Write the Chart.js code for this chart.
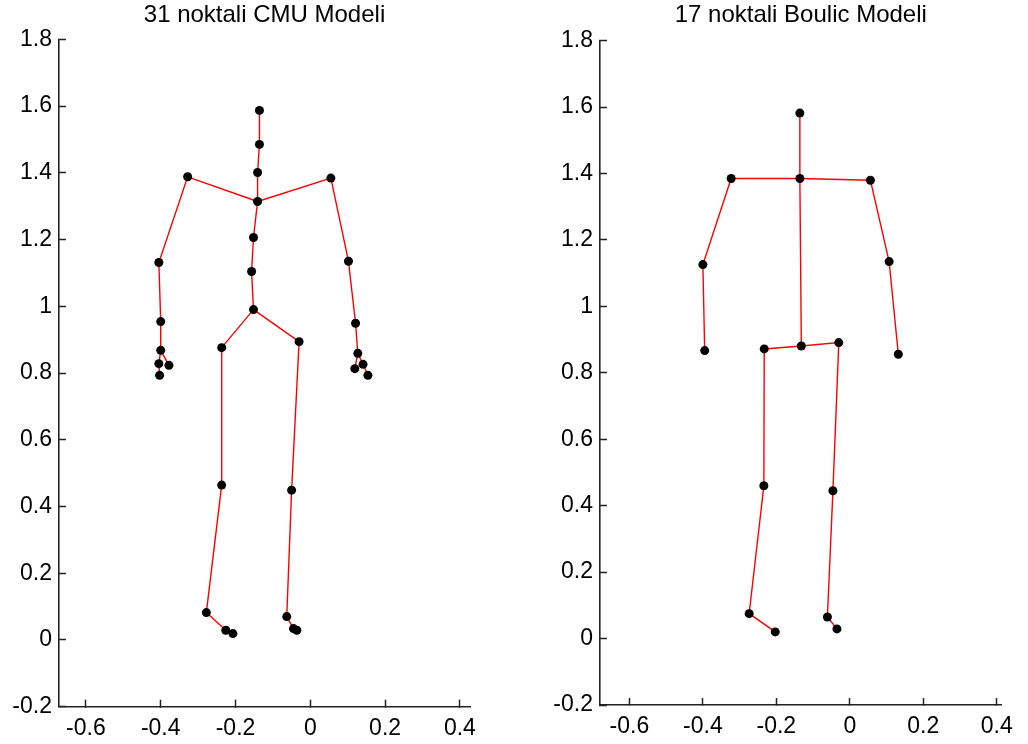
<!DOCTYPE html>
<html>
<head>
<meta charset="utf-8">
<script src="https://cdn.jsdelivr.net/npm/chart.js@4.4.1/dist/chart.umd.min.js"></script>
<style>
  body { margin: 0; background: #fff; }
  #wrap { position: relative; width: 1028px; height: 744px; }
  canvas { position: absolute; top: 0; }
</style>
</head>
<body>
<div id="wrap">
  <canvas id="cmuChart" width="520" height="744" style="left:0"></canvas>
  <canvas id="boulicChart" width="508" height="744" style="left:520px"></canvas>
</div>
<script>
const xTicks = [-0.6, -0.4, -0.2, 0, 0.2, 0.4];
const yTicks = [-0.2, 0, 0.2, 0.4, 0.6, 0.8, 1, 1.2, 1.4, 1.6, 1.8];

// 31 joint CMU skeleton
const cmuX = [-0.136, -0.136, -0.141, -0.141, -0.152, -0.157, -0.152,
  -0.328, -0.405, -0.400, -0.400, -0.405, -0.403, -0.378,
  0.055, 0.102, 0.121, 0.127, 0.141, 0.154, 0.119,
  -0.237, -0.237, -0.278, -0.226, -0.207,
  -0.030, -0.050, -0.063, -0.045, -0.036];
const cmuY = [1.587, 1.485, 1.401, 1.314, 1.206, 1.104, 0.990,
  1.388, 1.131, 0.954, 0.868, 0.828, 0.793, 0.823,
  1.384, 1.135, 0.949, 0.859, 0.826, 0.793, 0.813,
  0.876, 0.464, 0.082, 0.029, 0.019,
  0.894, 0.449, 0.070, 0.034, 0.029];
const cmuChains = [
  [0, 1, 2, 3, 4, 5, 6],
  [3, 7, 8, 9, 10, 11, 12], [10, 13],
  [3, 14, 15, 16, 17, 18, 19], [17, 20],
  [6, 21, 22, 23, 24, 25],
  [6, 26, 27, 28, 29, 30]
];

// 17 joint Boulic skeleton
const boulicX = [-0.136, -0.136, -0.323, -0.400, -0.395, 0.056, 0.107, 0.132,
  -0.132, -0.233, -0.234, -0.274, -0.203, -0.030, -0.046, -0.061, -0.035];
const boulicY = [1.582, 1.385, 1.385, 1.126, 0.867, 1.380, 1.135, 0.856,
  0.881, 0.872, 0.460, 0.075, 0.020, 0.891, 0.445, 0.065, 0.029];
const boulicChains = [
  [0, 1, 8],
  [1, 2, 3, 4],
  [1, 5, 6, 7],
  [8, 9, 10, 11, 12],
  [8, 13, 14, 15, 16]
];

Chart.defaults.font.family = "'Liberation Sans', Arial, sans-serif";
Chart.defaults.font.size = 23;
Chart.defaults.color = "#000";

const titlePlugin = {
  id: "axesTitle",
  afterDraw(chart, args, opts) {
    const a = chart.chartArea;
    const c = chart.ctx;
    c.save();
    c.font = "24px 'Liberation Sans', Arial, sans-serif";
    c.fillStyle = "#000";
    c.textAlign = "center";
    c.textBaseline = "alphabetic";
    c.fillText(opts.text, (a.left + a.right) / 2, opts.y);
    c.restore();
  }
};

function fmt(v) {
  return String(Math.round(v * 10) / 10);
}

function makeChart(id, title, xs, ys, chains, box) {
  const points = xs.map((x, i) => ({ x: x, y: ys[i] }));
  const datasets = [{
    data: points,
    showLine: false,
    pointRadius: 4.5,
    pointBorderWidth: 0,
    pointBackgroundColor: "#000",
    order: 0
  }];
  chains.forEach(ch => {
    datasets.push({
      data: ch.map(i => points[i]),
      showLine: true,
      borderColor: "#ff0000",
      borderWidth: 1.4,
      pointRadius: 0,
      order: 1
    });
  });

  new Chart(document.getElementById(id), {
    type: "scatter",
    data: { datasets: datasets },
    options: {
      responsive: false,
      animation: false,
      layout: { padding: { top: box.top, right: box.right, left: 0, bottom: 0 } },
      plugins: {
        legend: { display: false },
        tooltip: { enabled: false },
        axesTitle: { text: title, y: 22 }
      },
      scales: {
        x: {
          min: box.xMin,
          max: box.xMax,
          afterBuildTicks: s => { s.ticks = xTicks.map(v => ({ value: v })); },
          afterFit: s => { s.height = box.axisH; },
          grid: { drawOnChartArea: false, tickLength: -7, tickWidth: 1.5, color: "#222", tickColor: "#222" },
          border: { color: "#222", width: 1.6 },
          ticks: { padding: 15, callback: v => fmt(v), maxRotation: 0, autoSkip: false }
        },
        y: {
          min: -0.2,
          max: 1.8,
          afterBuildTicks: s => { s.ticks = yTicks.map(v => ({ value: v })); },
          afterFit: s => { s.width = box.axisW; },
          grid: { drawOnChartArea: false, tickLength: -7, tickWidth: 1.5, color: "#222", tickColor: "#222" },
          border: { color: "#222", width: 1.6 },
          ticks: { padding: 14, callback: v => fmt(v), autoSkip: false }
        }
      }
    },
    plugins: [titlePlugin]
  });
}

makeChart("cmuChart", "31 noktali CMU Modeli", cmuX, cmuY, cmuChains,
  { xMin: -0.672, xMax: 0.427, top: 39.3, right: 50, axisW: 59, axisH: 37.3 });
makeChart("boulicChart", "17 noktali Boulic Modeli", boulicX, boulicY, boulicChains,
  { xMin: -0.68, xMax: 0.413, top: 40.7, right: 20, axisW: 80, axisH: 39 });
</script>
</body>
</html>
